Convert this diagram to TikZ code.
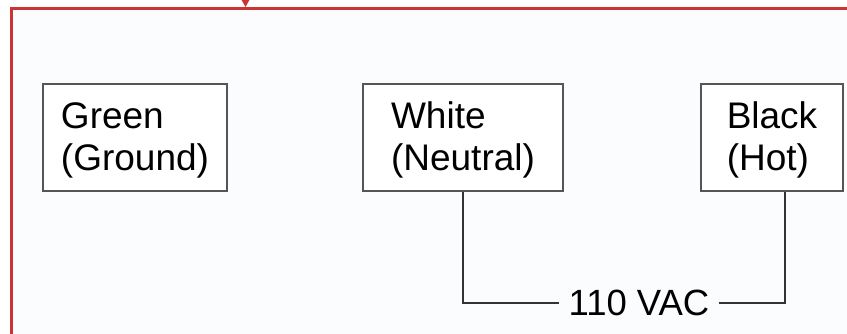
\documentclass[tikz,border=0pt]{standalone}
\usepackage{fontspec}
\setmainfont{Liberation Sans}
\definecolor{framered}{HTML}{CC3333}
\definecolor{bgin}{HTML}{FBFCFD}
\definecolor{boxline}{HTML}{555555}
\definecolor{wire}{HTML}{333333}
\newcommand{\topstrut}{\rule{0pt}{32pt}}
\begin{document}
\begin{tikzpicture}[x=1pt,y=-1pt,
  wirebox/.style={draw=boxline, line width=1.3pt, fill=white, align=left,
    font=\fontsize{37}{42}\selectfont, inner sep=0pt},
  wirelabel/.style={font=\fontsize{36.5}{42}\selectfont, inner sep=9pt},
  wireline/.style={draw=wire, line width=1.2pt}]
\useasboundingbox (0,0) rectangle (847,334);
\clip (0,0) rectangle (847,334);
\fill[white] (0,0) rectangle (847,334);
\fill[bgin] (11.5,8.5) rectangle (870,360);
\draw[framered, line width=2.2pt] (870,8.5) -- (11.5,8.5) -- (11.5,360);
\fill[framered] (241,-1) -- (250,-1) -- (245.5,7) -- cycle;

\node[wirebox, minimum width=184pt, minimum height=107pt] (green) at (135,137.5) {\topstrut Green\\(Ground)};
\node[wirebox, minimum width=200pt, minimum height=107pt] (white) at (463,137.5) {\topstrut White\\(Neutral)};
\node[wirebox, minimum width=142pt, minimum height=107pt] (black) at (772,137.5) {\topstrut Black\\(Hot)};

\node[wirelabel] (vac) at (639,303) {110 VAC};

\draw[wireline] (white.south) |- (vac.west);
\draw[wireline] (vac.east) -| ([xshift=13pt]black.south);
\end{tikzpicture}
\end{document}
